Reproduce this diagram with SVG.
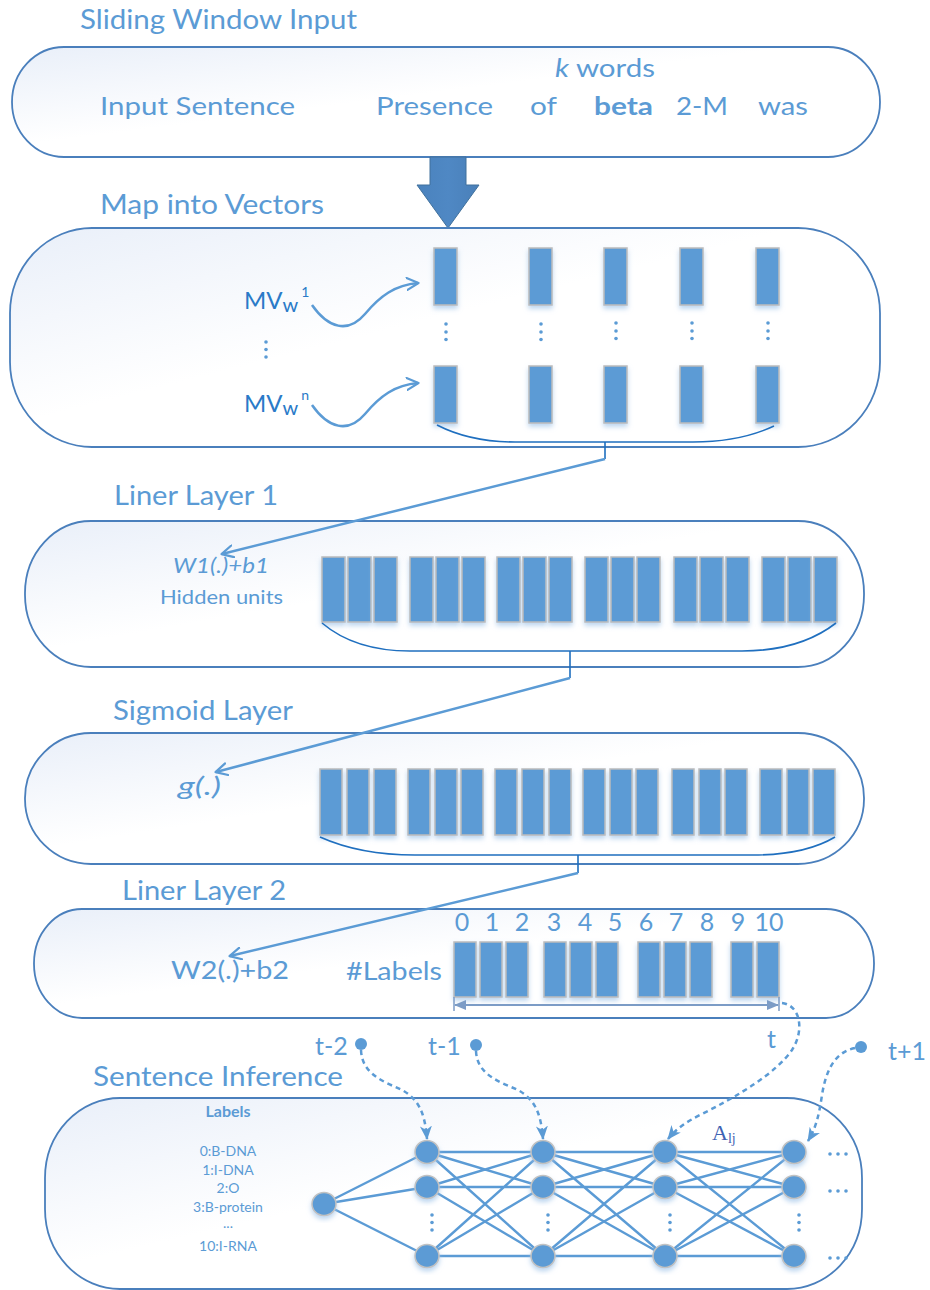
<svg xmlns="http://www.w3.org/2000/svg" width="930" height="1290" viewBox="0 0 930 1290">
<defs>
  <linearGradient id="boxfill" x1="0" y1="0" x2="1" y2="1">
    <stop offset="0" stop-color="#e9eff9"/>
    <stop offset="0.45" stop-color="#ffffff"/>
    <stop offset="1" stop-color="#ffffff"/>
  </linearGradient>
  <linearGradient id="arrowfill" x1="0" y1="0" x2="1" y2="0">
    <stop offset="0" stop-color="#4a82bd"/>
    <stop offset="0.5" stop-color="#4f88c4"/>
    <stop offset="1" stop-color="#4a80b9"/>
  </linearGradient>
  <filter id="shadow" x="-30%" y="-20%" width="160%" height="150%">
    <feDropShadow dx="0" dy="3" stdDeviation="2.5" flood-color="#9fc3e8" flood-opacity="0.7"/>
  </filter>
  <marker id="open" viewBox="0 0 14 14" refX="12" refY="7" markerWidth="14" markerHeight="14" markerUnits="userSpaceOnUse" orient="auto">
    <path d="M1,1 L12.5,7 L1,13" fill="none" stroke="#5b9bd5" stroke-width="2.2" stroke-linecap="round" stroke-linejoin="round"/>
  </marker>
  <marker id="stealth" viewBox="0 0 14 14" refX="13" refY="7" markerWidth="14" markerHeight="14" markerUnits="userSpaceOnUse" orient="auto">
    <path d="M0,1 L14,7 L0,13 L4,7 z" fill="#5b9bd5"/>
  </marker>
  <marker id="dbl" viewBox="0 0 12 12" refX="11" refY="6" markerWidth="12" markerHeight="12" markerUnits="userSpaceOnUse" orient="auto-start-reverse">
    <path d="M0,1 L12,6 L0,11 z" fill="#7c9cc6"/>
  </marker>
  <style>
    .box { fill: url(#boxfill); stroke: #4a7fbc; stroke-width: 1.8; }
    .t { font-family: Lato, "Liberation Sans", sans-serif; fill: #5b9bd5; }
    .title { font-size: 26px; }
    .main { font-size: 25px; }
    .mv { font-family: Lato, "Liberation Sans", sans-serif; fill: #2a7ac8; font-size: 24px; }
    .bar { fill: #5b9bd5; stroke: #bcbcbc; stroke-width: 1.5; filter: url(#shadow); }
    .node { fill: #5b9bd5; stroke: #c2c2c2; stroke-width: 1.5; filter: url(#shadow); }
    .link { fill: none; stroke: #5b9bd5; stroke-width: 2.5; }
    .brace { fill: none; stroke: #1f6fbf; stroke-width: 1.6; }
    .dash { fill: none; stroke: #5b9bd5; stroke-width: 2.5; stroke-dasharray: 5 4; }
    .edge { fill: none; stroke: #5b9bd5; stroke-width: 2.4; }
    .dot { fill: #5b9bd5; }
  </style>
</defs>

<rect width="930" height="1290" fill="#ffffff"/>

<!-- Sliding Window Input -->
<g id="sliding-window">
  <text class="t title" x="80" y="29" textLength="277" lengthAdjust="spacingAndGlyphs">Sliding Window Input</text>
  <rect class="box" x="12" y="47" width="868" height="110" rx="52" ry="55"/>
  <text class="t main" x="555" y="77" textLength="100" lengthAdjust="spacingAndGlyphs"><tspan font-style="italic">k</tspan> words</text>
  <text class="t main" x="100" y="115" textLength="195" lengthAdjust="spacingAndGlyphs">Input Sentence</text>
  <text class="t main" x="376" y="115" textLength="117" lengthAdjust="spacingAndGlyphs">Presence</text>
  <text class="t main" x="530" y="115" textLength="27" lengthAdjust="spacingAndGlyphs">of</text>
  <text class="t main" x="594" y="115" font-weight="bold" textLength="59" lengthAdjust="spacingAndGlyphs">beta</text>
  <text class="t main" x="676" y="115" textLength="52" lengthAdjust="spacingAndGlyphs">2-M</text>
  <text class="t main" x="758" y="115" textLength="50" lengthAdjust="spacingAndGlyphs">was</text>
</g>

<!-- big down arrow -->
<g id="down-arrow">
  <polygon points="430,157 466,157 466,185 479,185 448,228 417,185 430,185" fill="url(#arrowfill)" stroke="#41719c" stroke-width="1"/>
</g>

<!-- Map into Vectors -->
<g id="map-vectors">
  <text class="t title" x="100" y="214" textLength="224" lengthAdjust="spacingAndGlyphs">Map into Vectors</text>
  <rect class="box" x="10" y="228" width="870" height="219" rx="82" ry="85"/>
  <text class="mv" x="244" y="309">MV<tspan font-size="20" dy="3">w</tspan><tspan font-size="14" dx="3" dy="-15">1</tspan></text>
  <text class="mv" x="244" y="412">MV<tspan font-size="20" dy="3">w</tspan><tspan font-size="14" dx="3" dy="-15">n</tspan></text>
  <circle class="dot" cx="266" cy="342" r="1.8"/>
  <circle class="dot" cx="266" cy="349.5" r="1.8"/>
  <circle class="dot" cx="266" cy="357" r="1.8"/>
  <rect class="bar" x="434" y="248" width="23" height="57"/>
  <rect class="bar" x="529" y="248" width="23" height="57"/>
  <rect class="bar" x="604" y="248" width="23" height="57"/>
  <rect class="bar" x="680" y="248" width="23" height="57"/>
  <rect class="bar" x="756" y="248" width="23" height="57"/>
  <rect class="bar" x="434" y="366" width="23" height="57"/>
  <rect class="bar" x="529" y="366" width="23" height="57"/>
  <rect class="bar" x="604" y="366" width="23" height="57"/>
  <rect class="bar" x="680" y="366" width="23" height="57"/>
  <rect class="bar" x="756" y="366" width="23" height="57"/>
  <g fill="#5b9bd5">
    <circle cx="446" cy="324" r="1.8"/><circle cx="446" cy="332" r="1.8"/><circle cx="446" cy="339.5" r="1.8"/>
    <circle cx="541" cy="324" r="1.8"/><circle cx="541" cy="332" r="1.8"/><circle cx="541" cy="339.5" r="1.8"/>
    <circle cx="616" cy="323" r="1.8"/><circle cx="616" cy="331" r="1.8"/><circle cx="616" cy="338.5" r="1.8"/>
    <circle cx="692" cy="323" r="1.8"/><circle cx="692" cy="331" r="1.8"/><circle cx="692" cy="338.5" r="1.8"/>
    <circle cx="768" cy="323" r="1.8"/><circle cx="768" cy="331" r="1.8"/><circle cx="768" cy="338.5" r="1.8"/>
  </g>
  <path class="brace" d="M437,425 Q470,442 515,442 L693,442 Q740,442 774,426 M605,442 L605,459"/>
</g>

<!-- Liner Layer 1 -->
<g id="liner-layer-1">
  <text class="t title" x="114" y="505" textLength="164" lengthAdjust="spacingAndGlyphs">Liner Layer 1</text>
  <rect class="box" x="25" y="521" width="839" height="146" rx="66" ry="72"/>
  <text class="t" x="173" y="573" font-size="22" font-style="italic" textLength="96" lengthAdjust="spacingAndGlyphs">W1(.)+b1</text>
  <text class="t" x="160" y="604" font-size="19" textLength="123" lengthAdjust="spacingAndGlyphs">Hidden units</text>
  <g>
    <rect class="bar" x="322" y="557" width="23" height="65"/><rect class="bar" x="348" y="557" width="23" height="65"/><rect class="bar" x="374" y="557" width="23" height="65"/>
    <rect class="bar" x="410" y="557" width="23" height="65"/><rect class="bar" x="436" y="557" width="23" height="65"/><rect class="bar" x="462" y="557" width="23" height="65"/>
    <rect class="bar" x="497" y="557" width="23" height="65"/><rect class="bar" x="523" y="557" width="23" height="65"/><rect class="bar" x="549" y="557" width="23" height="65"/>
    <rect class="bar" x="585" y="557" width="23" height="65"/><rect class="bar" x="611" y="557" width="23" height="65"/><rect class="bar" x="637" y="557" width="23" height="65"/>
    <rect class="bar" x="674" y="557" width="23" height="65"/><rect class="bar" x="700" y="557" width="23" height="65"/><rect class="bar" x="726" y="557" width="23" height="65"/>
    <rect class="bar" x="762" y="557" width="23" height="65"/><rect class="bar" x="788" y="557" width="23" height="65"/><rect class="bar" x="814" y="557" width="23" height="65"/>
  </g>
  <path class="brace" d="M322,623 Q355,651 410,651 L742,651 Q800,651 836,623 M570,651 L570,678"/>
</g>

<!-- Sigmoid Layer -->
<g id="sigmoid-layer">
  <text class="t title" x="113" y="720" textLength="180" lengthAdjust="spacingAndGlyphs">Sigmoid Layer</text>
  <rect class="box" x="25" y="733" width="839" height="131" rx="66" ry="65"/>
  <text class="t" x="178" y="795" font-size="25" font-style="italic" textLength="43" lengthAdjust="spacingAndGlyphs">g(.)</text>
  <g>
    <rect class="bar" x="320" y="769" width="22" height="66"/><rect class="bar" x="347" y="769" width="22" height="66"/><rect class="bar" x="374" y="769" width="22" height="66"/>
    <rect class="bar" x="408" y="769" width="22" height="66"/><rect class="bar" x="435" y="769" width="22" height="66"/><rect class="bar" x="461" y="769" width="22" height="66"/>
    <rect class="bar" x="495" y="769" width="22" height="66"/><rect class="bar" x="522" y="769" width="22" height="66"/><rect class="bar" x="549" y="769" width="22" height="66"/>
    <rect class="bar" x="583" y="769" width="22" height="66"/><rect class="bar" x="610" y="769" width="22" height="66"/><rect class="bar" x="636" y="769" width="22" height="66"/>
    <rect class="bar" x="672" y="769" width="22" height="66"/><rect class="bar" x="699" y="769" width="22" height="66"/><rect class="bar" x="725" y="769" width="22" height="66"/>
    <rect class="bar" x="760" y="769" width="22" height="66"/><rect class="bar" x="787" y="769" width="22" height="66"/><rect class="bar" x="813" y="769" width="22" height="66"/>
  </g>
  <path class="brace" d="M320,837 Q360,855 415,855 L753,855 Q805,855 835,837 M578,855 L578,873"/>
</g>

<!-- Liner Layer 2 -->
<g id="liner-layer-2">
  <text class="t title" x="122" y="900" textLength="164" lengthAdjust="spacingAndGlyphs">Liner Layer 2</text>
  <rect class="box" x="34" y="909" width="840" height="109" rx="48" ry="54"/>
  <text class="t main" x="171" y="979" textLength="118" lengthAdjust="spacingAndGlyphs">W2(.)+b2</text>
  <text class="t main" x="346" y="980" textLength="96" lengthAdjust="spacingAndGlyphs">#Labels</text>
  <g class="t" font-size="25" text-anchor="middle">
    <text x="462" y="931">0</text><text x="492" y="931">1</text><text x="522" y="931">2</text>
    <text x="554" y="931">3</text><text x="585" y="931">4</text><text x="615" y="931">5</text>
    <text x="646" y="931">6</text><text x="676" y="931">7</text><text x="707" y="931">8</text>
    <text x="738" y="931">9</text><text x="769" y="931">10</text>
  </g>
  <g>
    <rect class="bar" x="454" y="942" width="22" height="55"/><rect class="bar" x="480" y="942" width="22" height="55"/><rect class="bar" x="506" y="942" width="22" height="55"/>
    <rect class="bar" x="544" y="942" width="22" height="55"/><rect class="bar" x="570" y="942" width="22" height="55"/><rect class="bar" x="596" y="942" width="22" height="55"/>
    <rect class="bar" x="638" y="942" width="22" height="55"/><rect class="bar" x="664" y="942" width="22" height="55"/><rect class="bar" x="690" y="942" width="22" height="55"/>
    <rect class="bar" x="731" y="942" width="22" height="55"/><rect class="bar" x="757" y="942" width="22" height="55"/>
  </g>
  <path d="M455,1005 L778,1005" fill="none" stroke="#7c9cc6" stroke-width="2" marker-start="url(#dbl)" marker-end="url(#dbl)"/>
  <path d="M454,997 L454,1011 M779,997 L779,1011" fill="none" stroke="#7c9cc6" stroke-width="1.5"/>
</g>

<!-- time step markers -->
<g id="time-steps">
  <text class="t main" x="315" y="1055">t-2</text>
  <circle class="dot" cx="361" cy="1044" r="6"/>
  <text class="t main" x="428" y="1055">t-1</text>
  <circle class="dot" cx="476" cy="1045" r="6"/>
  <text class="t main" x="767" y="1048">t</text>
  <text class="t main" x="888" y="1060">t+1</text>
  <circle class="dot" cx="861" cy="1047" r="6"/>
</g>

<!-- Sentence Inference -->
<g id="sentence-inference">
  <text class="t title" x="93" y="1086" textLength="250" lengthAdjust="spacingAndGlyphs">Sentence Inference</text>
  <rect class="box" x="45" y="1098" width="817" height="191" rx="75" ry="80"/>
  <text class="t" x="228" y="1117" font-size="16" font-weight="bold" text-anchor="middle">Labels</text>
  <g class="t" font-size="14" text-anchor="middle">
    <text x="228" y="1156">0:B-DNA</text>
    <text x="228" y="1175">1:I-DNA</text>
    <text x="228" y="1193">2:O</text>
    <text x="228" y="1212">3:B-protein</text>
    <text x="228" y="1228">...</text>
    <text x="228" y="1251">10:I-RNA</text>
  </g>
  <text x="712" y="1140" font-family="Liberation Serif, serif" font-size="22" fill="#3f62b3">A<tspan font-size="14" dy="3">lj</tspan></text>
</g>

<!-- connectors -->
<g id="connectors">
  <line class="link" x1="605" y1="459" x2="222" y2="554" marker-end="url(#open)"/>
  <line class="link" x1="570" y1="678" x2="216" y2="772" marker-end="url(#open)"/>
  <line class="link" x1="578" y1="873" x2="230" y2="956" marker-end="url(#open)"/>
  <path class="link" d="M312,305 C328,328 348,334 365,314 C380,296 395,285 418,283" marker-end="url(#open)"/>
  <path class="link" d="M312,405 C328,428 348,434 365,414 C380,396 395,385 418,383" marker-end="url(#open)"/>
  <path class="dash" d="M361,1050 C362,1075 385,1082 402,1090 C420,1100 425,1115 427,1139" marker-end="url(#stealth)"/>
  <path class="dash" d="M476,1051 C477,1075 500,1082 518,1090 C536,1100 541,1115 543,1139" marker-end="url(#stealth)"/>
  <path class="dash" d="M782,1003 C800,1005 805,1030 792,1050 C776,1073 740,1095 700,1115 C686,1122 676,1129 668,1139" marker-end="url(#stealth)"/>
  <path class="dash" d="M855,1048 C835,1052 826,1070 822,1095 C819,1115 816,1128 808,1141" marker-end="url(#stealth)"/>
  <path class="edge" d="M324,1204 L427,1152 M324,1204 L427,1187 M324,1204 L427,1256"/>
  <path class="edge" d="M427,1152 L543,1152 M427,1152 L543,1187 M427,1152 L543,1256 M427,1187 L543,1152 M427,1187 L543,1187 M427,1187 L543,1256 M427,1256 L543,1152 M427,1256 L543,1187 M427,1256 L543,1256"/>
  <path class="edge" d="M543,1152 L665,1152 M543,1152 L665,1187 M543,1152 L665,1256 M543,1187 L665,1152 M543,1187 L665,1187 M543,1187 L665,1256 M543,1256 L665,1152 M543,1256 L665,1187 M543,1256 L665,1256"/>
  <path class="edge" d="M665,1152 L794,1152 M665,1152 L794,1187 M665,1152 L794,1256 M665,1187 L794,1152 M665,1187 L794,1187 M665,1187 L794,1256 M665,1256 L794,1152 M665,1256 L794,1187 M665,1256 L794,1256"/>
</g>

<!-- graph nodes -->
<g id="state-nodes">
  <ellipse class="node" cx="324" cy="1204" rx="12" ry="11.5"/>
  <ellipse class="node" cx="427" cy="1152" rx="12" ry="11.5"/>
  <ellipse class="node" cx="427" cy="1187" rx="12" ry="11.5"/>
  <ellipse class="node" cx="427" cy="1256" rx="12" ry="11.5"/>
  <ellipse class="node" cx="543" cy="1152" rx="12" ry="11.5"/>
  <ellipse class="node" cx="543" cy="1187" rx="12" ry="11.5"/>
  <ellipse class="node" cx="543" cy="1256" rx="12" ry="11.5"/>
  <ellipse class="node" cx="665" cy="1152" rx="12" ry="11.5"/>
  <ellipse class="node" cx="665" cy="1187" rx="12" ry="11.5"/>
  <ellipse class="node" cx="665" cy="1256" rx="12" ry="11.5"/>
  <ellipse class="node" cx="794" cy="1152" rx="12" ry="11.5"/>
  <ellipse class="node" cx="794" cy="1187" rx="12" ry="11.5"/>
  <ellipse class="node" cx="794" cy="1256" rx="12" ry="11.5"/>
  <g fill="#5b9bd5">
    <circle cx="432" cy="1215" r="1.8"/><circle cx="432" cy="1222.5" r="1.8"/><circle cx="432" cy="1230" r="1.8"/>
    <circle cx="548" cy="1215" r="1.8"/><circle cx="548" cy="1222.5" r="1.8"/><circle cx="548" cy="1230" r="1.8"/>
    <circle cx="670" cy="1215" r="1.8"/><circle cx="670" cy="1222.5" r="1.8"/><circle cx="670" cy="1230" r="1.8"/>
    <circle cx="799" cy="1215" r="1.8"/><circle cx="799" cy="1222.5" r="1.8"/><circle cx="799" cy="1230" r="1.8"/>
    <circle cx="830" cy="1154" r="1.8"/><circle cx="838" cy="1154" r="1.8"/><circle cx="846" cy="1154" r="1.8"/>
    <circle cx="830" cy="1191" r="1.8"/><circle cx="838" cy="1191" r="1.8"/><circle cx="846" cy="1191" r="1.8"/>
    <circle cx="830" cy="1258" r="1.8"/><circle cx="838" cy="1258" r="1.8"/><circle cx="846" cy="1258" r="1.8"/>
  </g>
</g>
</svg>
